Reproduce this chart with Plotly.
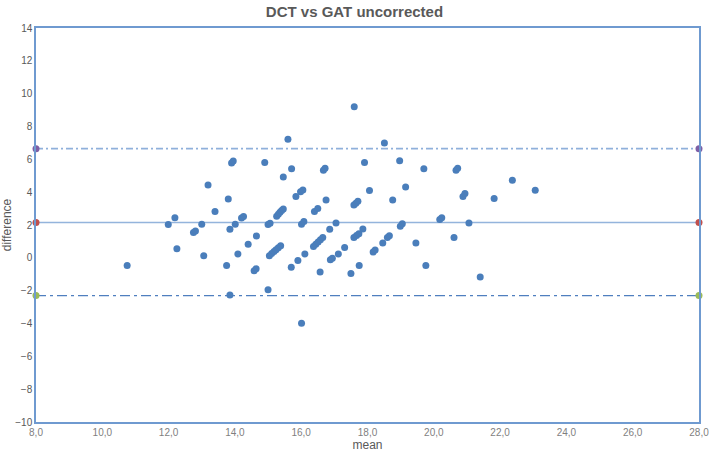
import plotly.graph_objects as go

# Data (mean, difference)
mean_vals = [10.75, 11.99, 12.19, 12.25, 12.75, 12.81, 13.00, 13.06, 13.19, 13.40,
             13.75, 13.80, 13.85, 13.90, 13.95, 13.85, 14.01, 14.09, 14.20, 14.26,
             14.40, 14.58, 14.64, 14.65, 14.90, 15.00, 15.06, 15.00,
             15.04, 15.11, 15.18, 15.24, 15.31, 15.38,
             15.26, 15.31, 15.36, 15.41, 15.46,
             15.46, 15.60, 15.71, 15.70, 15.84, 15.90, 15.98, 16.05, 16.01, 16.08,
             16.11, 16.01,
             16.37, 16.44, 16.51, 16.58, 16.65,
             16.40, 16.50, 16.57, 16.67, 16.72, 16.75, 16.86, 16.88, 16.94, 17.05,
             17.12, 17.31, 17.50, 17.60, 17.59, 17.65, 17.71, 17.59, 17.67, 17.74,
             17.86, 17.75, 17.91, 18.06, 18.17, 18.23, 18.46, 18.51, 18.60, 18.66,
             18.76, 18.97, 18.99, 19.05, 19.15, 19.46, 19.70, 19.76, 20.18, 20.24,
             20.61, 20.67, 20.72, 20.88, 20.94, 21.06, 21.40, 21.82, 22.37, 23.06]
diff_vals = [-0.47, 2.03, 2.44, 0.55, 1.54, 1.63, 2.04, 0.13, 4.43, 2.82,
             -0.46, 3.59, 1.74, 5.78, 5.90, -2.26, 2.04, 0.24, 2.42, 2.52,
             0.83, -0.78, -0.67, 1.33, 5.80, 2.03, 2.11, -1.95,
             0.12, 0.27, 0.39, 0.50, 0.62, 0.74,
             2.54, 2.66, 2.78, 2.88, 2.97,
             4.93, 7.22, 5.43, -0.57, 3.73, -0.16, 4.03, 4.13, 2.04, 2.21,
             0.24, -3.98,
             0.69, 0.83, 0.97, 1.10, 1.24,
             2.82, 3.00, -0.87, 5.34, 5.45, 3.52, 1.74, -0.12, -0.02, 2.12,
             0.24, 0.63, -0.96, 9.20, 3.22, 3.33, 3.45, 1.24, 1.36, 1.46,
             1.75, -0.46, 5.80, 4.10, 0.35, 0.47, 0.91, 7.00, 1.24, 1.35,
             3.52, 5.92, 1.93, 2.08, 4.32, 0.91, 5.43, -0.46, 2.33, 2.44,
             1.24, 5.34, 5.45, 3.73, 3.92, 2.12, -1.17, 3.62, 4.73, 4.11]

mean_diff = 2.15
upper_loa = 6.65
lower_loa = -2.30
x_range = [8, 28]

x_ticks = [8, 10, 12, 14, 16, 18, 20, 22, 24, 26, 28]
x_tick_text = ["8,0", "10,0", "12,0", "14,0", "16,0", "18,0", "20,0", "22,0", "24,0", "26,0", "28,0"]
y_ticks = [14, 12, 10, 8, 6, 4, 2, 0, -2, -4, -6, -8, -10]

font_fam = "Liberation Sans Narrow, Arial Narrow, Liberation Sans, Arial"
blue = "#4a7ebb"
border = "#6f9ad0"

fig = go.Figure()

fig.add_trace(go.Scatter(x=x_range, y=[upper_loa, upper_loa], mode="lines+markers",
                         line=dict(color="#8fb0db", width=1.6, dash="7px,3px,2px,3px"),
                         marker=dict(color="#7e5fa6", size=7), cliponaxis=False))
fig.add_trace(go.Scatter(x=x_range, y=[mean_diff, mean_diff], mode="lines+markers",
                         line=dict(color="#94b4dc", width=1.6),
                         marker=dict(color="#c0504d", size=7), cliponaxis=False))
fig.add_trace(go.Scatter(x=x_range, y=[lower_loa, lower_loa], mode="lines+markers",
                         line=dict(color="#4f7fbf", width=1.3, dash="10px,4px,3px,4px"),
                         marker=dict(color="#9bbb59", size=7), cliponaxis=False))
fig.add_trace(go.Scatter(x=mean_vals, y=diff_vals, mode="markers",
                         marker=dict(color=blue, size=7), cliponaxis=False))

fig.update_layout(
    width=709, height=453,
    margin=dict(l=36, r=10, t=28, b=31, autoexpand=False),
    paper_bgcolor="white", plot_bgcolor="white",
    showlegend=False,
    title=dict(text="<b>DCT vs GAT uncorrected</b>", x=0.5, xanchor="center",
               y=0.985, yanchor="top", automargin=False,
               font=dict(family="Liberation Sans, Arial", size=15, color="#595959")),
    font=dict(family=font_fam, color="#595959"),
)
fig.update_xaxes(range=x_range, tickvals=x_ticks, ticktext=x_tick_text,
                 automargin=False, ticklabeloverflow="allow",
                 showgrid=False, zeroline=False, showline=True, mirror=True,
                 linecolor=border, linewidth=1.5, ticks="",
                 tickfont=dict(size=10, color="#7f7f7f", family=font_fam),
                 title=dict(text="mean", font=dict(size=12, color="#595959",
                                                  family="Liberation Sans, Arial"),
                            standoff=2))
fig.update_yaxes(range=[-10, 14], tickvals=y_ticks,
                 automargin=False,
                 showgrid=False, zeroline=False, showline=True, mirror=True,
                 linecolor=border, linewidth=1.5, ticks="",
                 tickfont=dict(size=10, color="#595959", family=font_fam),
                 title=dict(text="difference", font=dict(size=12, color="#595959",
                                                        family="Liberation Sans, Arial"),
                            standoff=4))

fig.write_html("out.html", config={"displayModeBar": False},
               post_script="document.body.style.margin='0';document.body.style.overflow='hidden';")
